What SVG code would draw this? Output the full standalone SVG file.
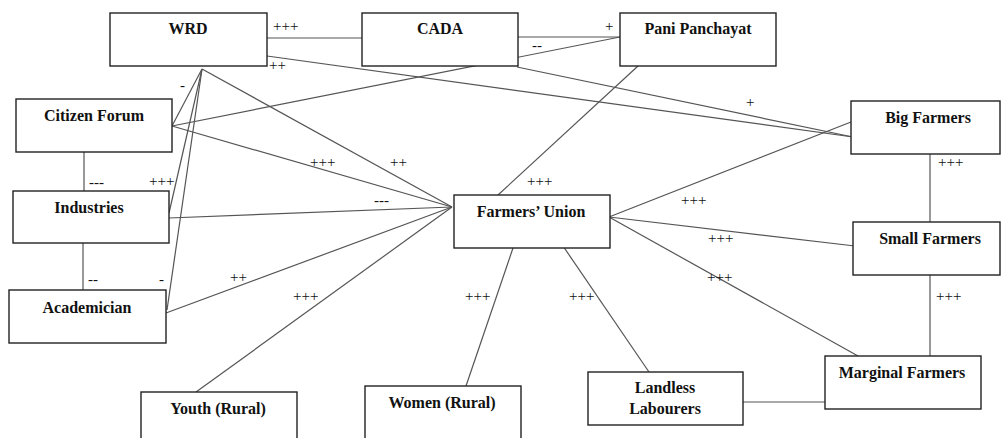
<svg xmlns="http://www.w3.org/2000/svg" width="1002" height="438" viewBox="0 0 1002 438">
<style>
.box{fill:#fff;stroke:#222;stroke-width:1.4}
.lbl{font-weight:bold;font-size:16px;fill:#111;text-anchor:middle}
.sg{font-size:15px;fill:#111}
.c line{stroke:#555;stroke-width:1.2}
</style>
<rect width="1002" height="438" fill="#fff"/>
<g class="c" id="connectors">
<line x1="267" y1="38" x2="362" y2="38"/>
<line x1="518" y1="37" x2="620" y2="37"/>
<line x1="267" y1="56" x2="853" y2="137"/>
<line x1="517" y1="67" x2="853" y2="137"/>
<line x1="172" y1="126" x2="620" y2="37"/>
<line x1="172" y1="126" x2="452" y2="207"/>
<line x1="202" y1="69" x2="452" y2="207"/>
<line x1="202" y1="69" x2="172" y2="126"/>
<line x1="202" y1="69" x2="169" y2="213"/>
<line x1="202" y1="69" x2="167" y2="310"/>
<line x1="169" y1="218" x2="452" y2="207"/>
<line x1="166" y1="313" x2="452" y2="207"/>
<line x1="196" y1="392" x2="452" y2="207"/>
<line x1="638" y1="66" x2="498" y2="195"/>
<line x1="609" y1="217" x2="851" y2="122"/>
<line x1="609" y1="217" x2="855" y2="246"/>
<line x1="609" y1="217" x2="858" y2="356"/>
<line x1="513" y1="248" x2="466" y2="386"/>
<line x1="563" y1="246" x2="649" y2="372"/>
<line x1="743" y1="402" x2="825" y2="402"/>
<line x1="930" y1="154" x2="930" y2="222"/>
<line x1="930" y1="275" x2="930" y2="360"/>
<line x1="84" y1="152" x2="84" y2="191"/>
<line x1="83" y1="243" x2="83" y2="290"/>
</g>
<g id="signs" font-family="'Liberation Serif', 'DejaVu Serif', serif">
<text class="sg" x="273" y="31">+++</text>
<text class="sg" x="269" y="70">++</text>
<text class="sg" x="180" y="90">-</text>
<text class="sg" x="310" y="167">+++</text>
<text class="sg" x="605" y="31">+</text>
<text class="sg" x="532" y="50">--</text>
<text class="sg" x="390" y="167">++</text>
<text class="sg" x="746" y="107">+</text>
<text class="sg" x="938" y="167">+++</text>
<text class="sg" x="89" y="187">---</text>
<text class="sg" x="149" y="186">+++</text>
<text class="sg" x="88" y="284">--</text>
<text class="sg" x="159" y="284">-</text>
<text class="sg" x="230" y="282">++</text>
<text class="sg" x="293" y="301">+++</text>
<text class="sg" x="374" y="205">---</text>
<text class="sg" x="527" y="186">+++</text>
<text class="sg" x="465" y="301">+++</text>
<text class="sg" x="569" y="301">+++</text>
<text class="sg" x="681" y="205">+++</text>
<text class="sg" x="708" y="243">+++</text>
<text class="sg" x="707" y="282">+++</text>
<text class="sg" x="936" y="301">+++</text>
</g>
<g id="nodes" font-family="'Liberation Serif', 'DejaVu Serif', serif">
<g id="wrd"><rect class="box" x="110" y="13" width="157" height="53"/><text class="lbl" x="188" y="34">WRD</text></g>
<g id="cada"><rect class="box" x="362" y="13" width="156" height="53"/><text class="lbl" x="440" y="34">CADA</text></g>
<g id="pani"><rect class="box" x="620" y="13" width="156" height="53"/><text class="lbl" x="698" y="34">Pani Panchayat</text></g>
<g id="citizen"><rect class="box" x="16" y="99" width="156" height="53"/><text class="lbl" x="94" y="121">Citizen Forum</text></g>
<g id="industries"><rect class="box" x="13" y="191" width="156" height="52"/><text class="lbl" x="89" y="213">Industries</text></g>
<g id="academician"><rect class="box" x="9" y="290" width="157" height="53"/><text class="lbl" x="87" y="313">Academician</text></g>
<g id="union"><rect class="box" x="454" y="195" width="156" height="53"/><text class="lbl" x="531" y="217">Farmers’ Union</text></g>
<g id="big"><rect class="box" x="851" y="101" width="149" height="53"/><text class="lbl" x="928" y="123">Big Farmers</text></g>
<g id="small"><rect class="box" x="853" y="222" width="147" height="53"/><text class="lbl" x="930" y="244">Small Farmers</text></g>
<g id="marginal"><rect class="box" x="825" y="356" width="156" height="53"/><text class="lbl" x="902" y="378">Marginal Farmers</text></g>
<g id="landless"><rect class="box" x="588" y="372" width="155" height="53"/><text class="lbl" x="665" y="393">Landless</text><text class="lbl" x="665" y="414">Labourers</text></g>
<g id="youth"><rect class="box" x="141" y="392" width="156" height="60"/><text class="lbl" x="218" y="414">Youth (Rural)</text></g>
<g id="women"><rect class="box" x="365" y="386" width="156" height="66"/><text class="lbl" x="442" y="408">Women (Rural)</text></g>
</g>
</svg>
